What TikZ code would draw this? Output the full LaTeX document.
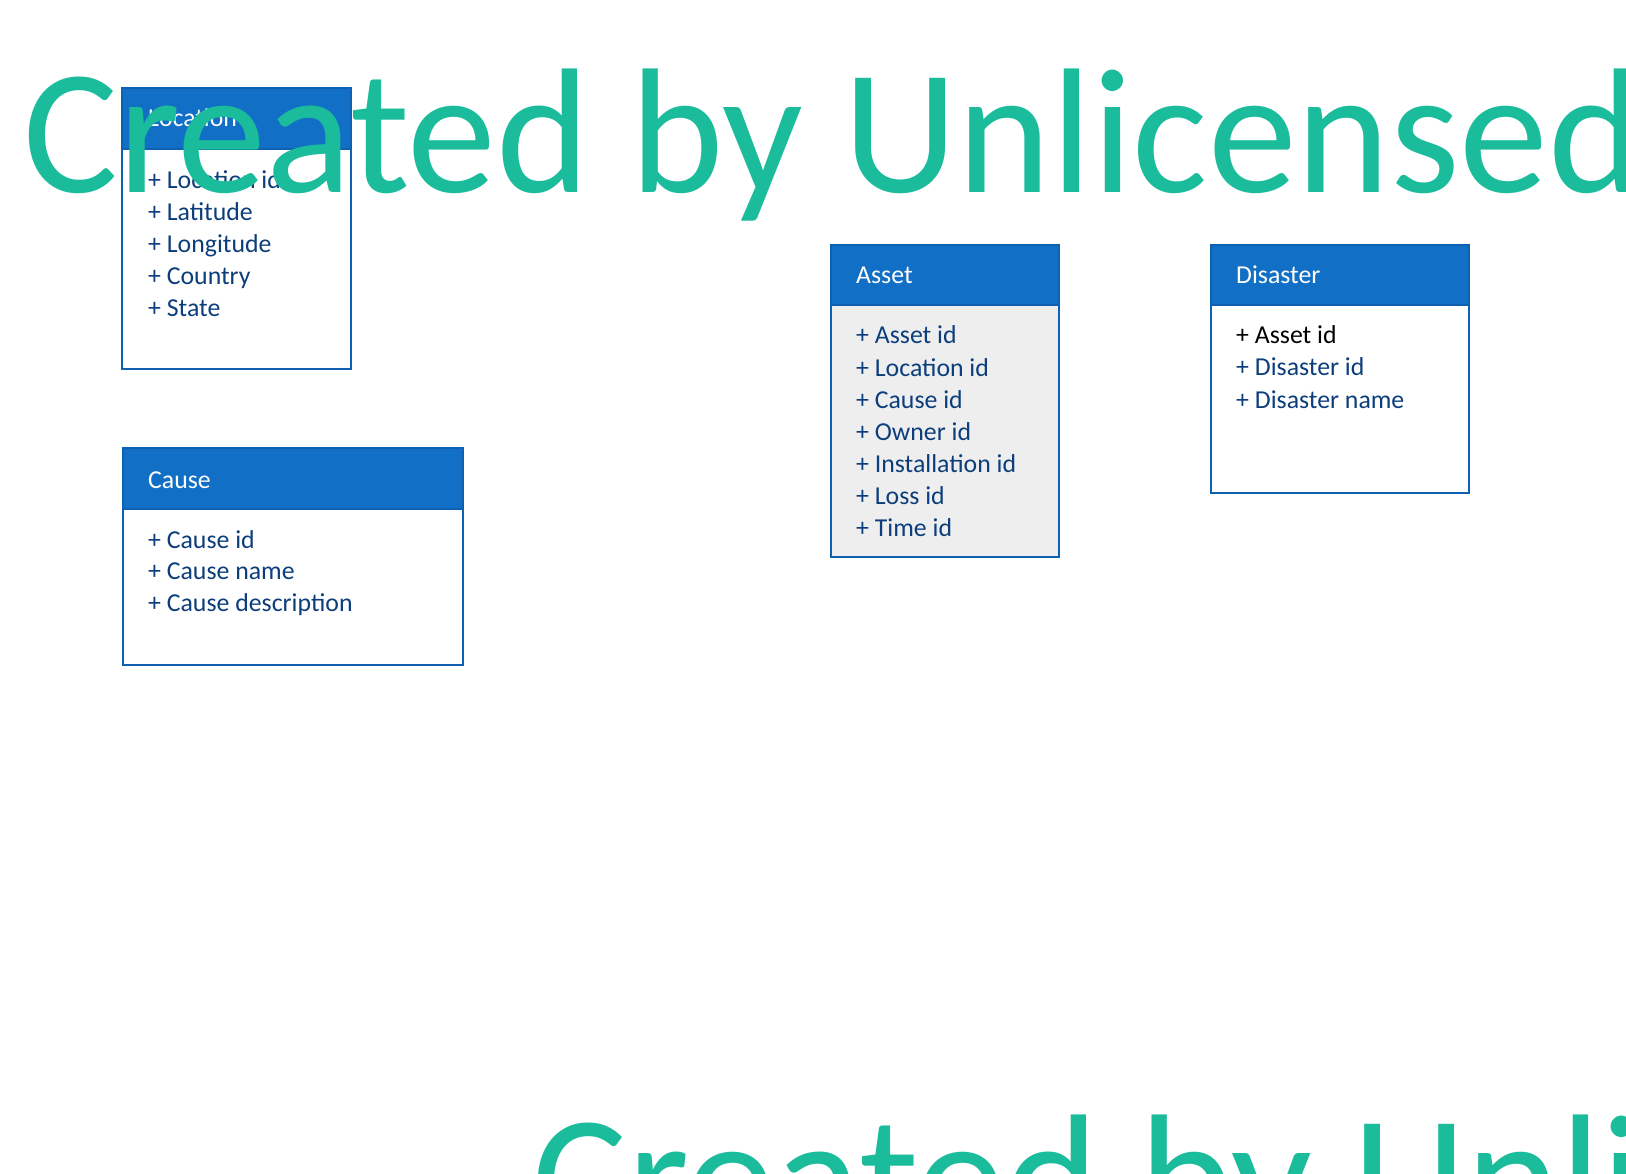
\documentclass[tikz,border=0pt]{standalone}
\usepackage{fontspec}
\setmainfont{Carlito}
\definecolor{headblue}{RGB}{17,111,197}
\definecolor{edgeblue}{RGB}{14,96,176}
\definecolor{attrblue}{RGB}{12,62,124}
\definecolor{bodygray}{RGB}{238,238,238}
\definecolor{markgreen}{RGB}{27,188,155}
\newcommand\attrsize{\fontsize{25.8}{30}\selectfont}
\begin{document}
\begin{tikzpicture}[x=1pt,y=1pt,line join=miter,
  entity/.style={draw=edgeblue,line width=2pt},
  head/.style={fill=headblue},
  title/.style={anchor=base west,inner sep=0pt,text=white,font=\attrsize},
  attr/.style={anchor=base west,inner sep=0pt,text=attrblue,font=\attrsize},
  watermark/.style={anchor=base west,inner sep=0pt,text=markgreen,font=\fontsize{178}{200}\selectfont}]
  \useasboundingbox (0,0) rectangle (1626,-1174);
  \clip (0,0) rectangle (1626,-1174);
  % Location
  \fill[white] (122,-88) rectangle (351,-369);
  \fill[head] (122,-88) rectangle (351,-149);
  \draw[entity] (122,-149) -- (351,-149);
  \draw[entity] (122,-88) rectangle (351,-369);
  \node[title] (loc) at (148,-127) {Location};
  \foreach \t [count=\k] in {Location id,Latitude,Longitude,Country,State}
    \node[attr] (loc-\k) at (148,{-189-31.8*(\k-1)}) {+ \t};
  % Cause
  \fill[white] (123,-448) rectangle (463,-665);
  \fill[head] (123,-448) rectangle (463,-509);
  \draw[entity] (123,-509) -- (463,-509);
  \draw[entity] (123,-448) rectangle (463,-665);
  \node[title] (cause) at (148,-488) {Cause};
  \foreach \t [count=\k] in {Cause id,Cause name,Cause description}
    \node[attr] (cause-\k) at (148,{-548-31.8*(\k-1)}) {+ \t};
  % Asset
  \fill[bodygray] (831,-245) rectangle (1059,-557);
  \fill[head] (831,-245) rectangle (1059,-305);
  \draw[entity] (831,-305) -- (1059,-305);
  \draw[entity] (831,-245) rectangle (1059,-557);
  \node[title] (asset) at (856,-284) {Asset};
  \foreach \t [count=\k] in {Asset id,Location id,Cause id,Owner id,Installation id,Loss id,Time id}
    \node[attr] (asset-\k) at (856,{-344-32.1*(\k-1)}) {+ \t};
  % Disaster
  \fill[white] (1211,-245) rectangle (1469,-493);
  \fill[head] (1211,-245) rectangle (1469,-305);
  \draw[entity] (1211,-305) -- (1469,-305);
  \draw[entity] (1211,-245) rectangle (1469,-493);
  \node[title] (dis) at (1236,-284) {Disaster};
  \node[attr,text=black] (dis-1) at (1236,-344) {+ Asset id};
  \node[attr] (dis-2) at (1236,-376) {+ Disaster id};
  \node[attr] (dis-3) at (1236,-408) {+ Disaster name};
  % watermark
  \node[watermark] (mark-top) at (23,-193) {Created by Unlicensed};
  \node[watermark] (mark-bot) at (532,-1238) {Created by Unlicensed};
\end{tikzpicture}
\end{document}
